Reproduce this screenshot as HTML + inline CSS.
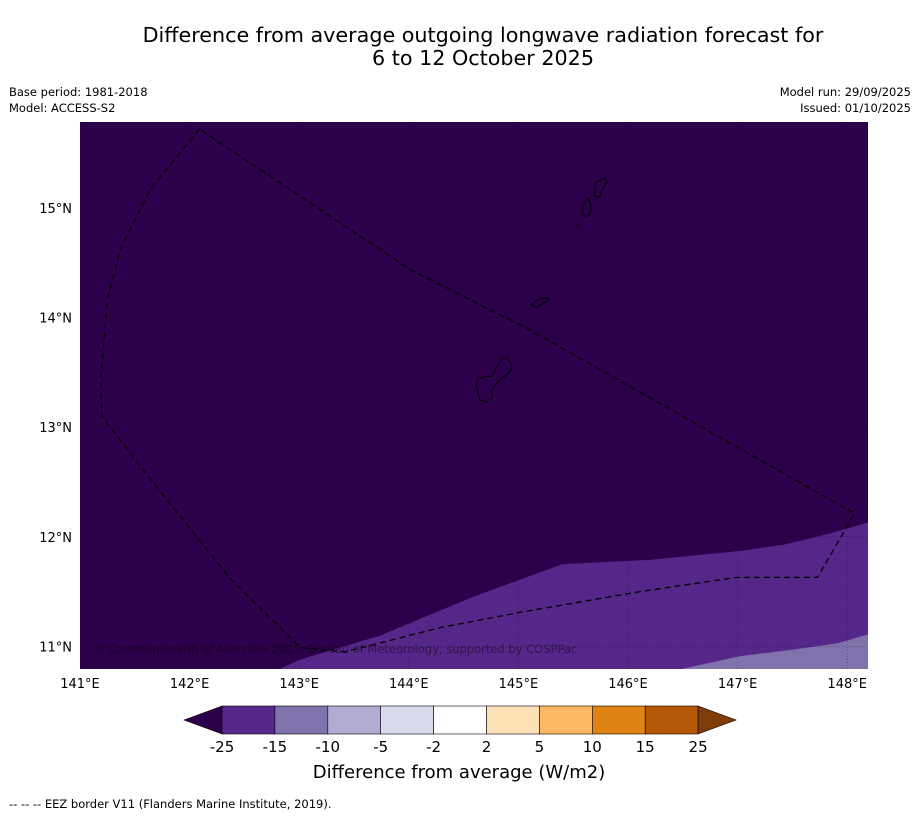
<!DOCTYPE html>
<html><head><meta charset="utf-8"><style>
body{margin:0;background:#fff;font-family:"Liberation Sans","DejaVu Sans",sans-serif;}
svg text{font-family:"DejaVu Sans","Liberation Sans",sans-serif;}
</style></head><body>
<svg width="919" height="816" viewBox="0 0 919 816" xmlns="http://www.w3.org/2000/svg">
<text x="483" y="42" font-size="20.7" text-anchor="middle">Difference from average outgoing longwave radiation forecast for</text>
<text x="483" y="65" font-size="20.7" text-anchor="middle">6 to 12 October 2025</text>
<text x="9" y="96" font-size="11.5">Base period: 1981-2018</text>
<text x="9" y="112" font-size="11.5">Model: ACCESS-S2</text>
<text x="911" y="96" font-size="11.5" text-anchor="end">Model run: 29/09/2025</text>
<text x="911" y="112" font-size="11.5" text-anchor="end">Issued: 01/10/2025</text>
<defs><clipPath id="mc"><rect x="80" y="122" width="788" height="547"/></clipPath></defs>
<g id="map" clip-path="url(#mc)"></g>
<g id="axes"></g>
<g id="cbar"></g>
<text x="459" y="778" font-size="18" text-anchor="middle">Difference from average (W/m2)</text>
<text x="9" y="808" font-size="11.5">--  --  -- EEZ border V11 (Flanders Marine Institute, 2019).</text>
</svg>
<script>
const lonTicks=[141,142,143,144,145,146,147,148];
const latTicks=[11,12,13,14,15];
const band15Lon=[142.81,143.01,143.74,144.58,145.40,146.20,147.02,147.43,147.84,148.19];
const band15Lat=[10.79,10.88,11.10,11.45,11.75,11.79,11.87,11.93,12.03,12.13];
const band10Lon=[146.47,147.02,147.57,147.92,148.19];
const band10Lat=[10.79,10.91,10.98,11.03,11.11];
const eezLon=[142.09,141.64,141.37,141.25,141.19,141.20,141.64,142.37,143.01,143.42,144.28,145.01,146.11,146.99,147.73,148.07,148.02,145.10,144.01,142.09];
const eezLat=[15.72,15.17,14.63,14.17,13.44,13.10,12.53,11.62,10.99,10.95,11.17,11.31,11.50,11.63,11.63,12.22,12.24,13.89,14.44,15.72];
const cbLevels=[-25,-15,-10,-5,-2,2,5,10,15,25];
const cbColors=["#542788","#8073ac","#b2abd2","#d8daeb","#ffffff","#fee0b6","#fdb863","#e08214","#b35806"];
const xS=lon=>80+(lon-141)*109.6;
const yS=lat=>208+(15-lat)*109.6;
const NS="http://www.w3.org/2000/svg";
function mk(tag,attrs,parent){const e=document.createElementNS(NS,tag);for(const k in attrs)e.setAttribute(k,attrs[k]);parent.appendChild(e);return e;}
const map=document.getElementById('map');
let r=mk('rect',{x:80,y:122,width:788,height:547,fill:'#2d004b'},map);


function bandPath(lons,lats){let d='M'+lons.map((l,i)=>xS(l)+','+yS(lats[i])).join(' L');d+=' L870,670 L'+xS(lons[0])+',670 Z';return d;}
let p1=mk('path',{d:bandPath(band15Lon,band15Lat),fill:'#542788'},map);


let p2=mk('path',{d:bandPath(band10Lon,band10Lat),fill:'#8073ac'},map);


lonTicks.forEach(l=>{let g=mk('line',{x1:xS(l),x2:xS(l),y1:122,y2:669,stroke:'#000','stroke-opacity':0.5,'stroke-width':0.6,'stroke-dasharray':'1,2'},map);

});
latTicks.forEach(l=>{let g=mk('line',{x1:80,x2:868,y1:yS(l),y2:yS(l),stroke:'#000','stroke-opacity':0.5,'stroke-width':0.6,'stroke-dasharray':'1,2'},map);

});
let isl=["M478,378 L492,376 L502,358 L507,358 L512,365 L510,372 L498,382 L492,390 L492,398 L486,402 L480,400 L476,386 Z",
"M531,305 L537,300 L545,298 L549,299 L541,305 L536,307 Z",
"M583,205 L588,198 L591,205 L590,214 L586,217 L582,212 Z",
"M596,182 L605,178 L607,182 L602,190 L600,197 L594,196 Z",
"M576,226 L580,225"];
isl.forEach(d=>{let e=mk('path',{d:d,fill:'none',stroke:'#000','stroke-width':1},map);

});
let ez=mk('path',{d:'M'+eezLon.map((l,i)=>xS(l)+','+yS(eezLat[i])).join(' L'),fill:'none',stroke:'#000','stroke-width':1.3,'stroke-dasharray':'6,4'},map);


let cp=mk('text',{x:93,y:653,'font-size':11.5,fill:'#000','fill-opacity':0.45,'font-family':'Liberation Sans, sans-serif'},map);
cp.textContent='© Commonwealth of Australia 2025, Bureau of Meteorology, supported by COSPPac';


const axes=document.getElementById('axes');
lonTicks.forEach(l=>{let t=mk('text',{x:xS(l),y:688,'font-size':13,'text-anchor':'middle'},axes);t.textContent=l+'°E';

});
latTicks.forEach(l=>{let t=mk('text',{x:72,y:yS(l)+5,'font-size':13,'text-anchor':'end'},axes);t.textContent=l+'°N';

});
const cb=document.getElementById('cbar');
const cx0=222,cw=52.9,cy=706,ch=28;
let tl=mk('polygon',{points:`184,${cy+ch/2} ${cx0},${cy} ${cx0},${cy+ch}`,fill:'#2d004b',stroke:'#000','stroke-width':0.6},cb);


cbColors.forEach((c,i)=>{let b=mk('rect',{x:cx0+i*cw,y:cy,width:cw,height:ch,fill:c,stroke:'#000','stroke-width':0.6},cb);

});
const cx1=cx0+cbColors.length*cw;
let tr=mk('polygon',{points:`${cx1},${cy} 736,${cy+ch/2} ${cx1},${cy+ch}`,fill:'#7f3b08',stroke:'#000','stroke-width':0.6},cb);


cbLevels.forEach((v,i)=>{let t=mk('text',{x:cx0+i*cw,y:752,'font-size':15,'text-anchor':'middle'},cb);t.textContent=v;

});
</script>
</body></html>
